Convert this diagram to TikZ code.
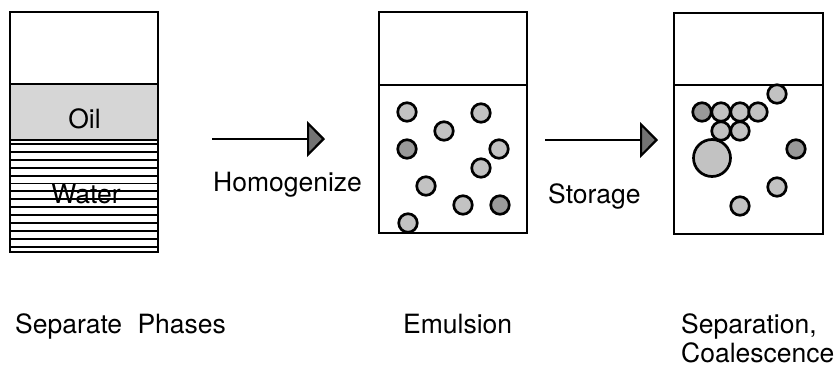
\documentclass[tikz,border=0pt]{standalone}
\usepackage{fontspec}
\setmainfont{TeX Gyre Heros}
\usetikzlibrary{arrows.meta}
\begin{document}
\begin{tikzpicture}[x=1pt,y=-1pt,
  vessel/.style={draw, line width=2pt, inner sep=0pt, fill=none},
  drop/.style={circle, draw, line width=2.7pt, fill=black!24, minimum size=18.5pt, inner sep=0pt},
  dropdark/.style={drop, fill=black!40},
  bigdrop/.style={drop, minimum size=37pt},
  flow/.style={line width=1.5pt, -{Triangle[length=18pt,width=36pt,fill=black!55,line width=2.2pt]}},
  lbl/.style={font=\fontsize{26.5}{30}\selectfont, inner sep=0pt},
  stripe/.style={line width=1.9pt}]
\useasboundingbox (0,0) rectangle (835,367);

% --- first vessel: oil layer over striped water ---
\fill[black!16] (10,84) rectangle (158,140);
\foreach \k in {0,...,13} \draw[stripe] (10,144+7.9*\k) -- (158,144+7.9*\k);
\node[vessel, minimum width=148pt, minimum height=240pt] (v1) at (84,132) {};
\draw[line width=1.2pt] (10,84) -- (158,84);
\draw[line width=1.8pt] (10,140) -- (158,140);
\node[lbl, anchor=base] (oil) at (84.5,128) {Oil};
\node[lbl, anchor=base] (water) at (86,203) {Water};

% --- second vessel: emulsion ---
\node[vessel, minimum width=148.5pt, minimum height=221pt] (v2) at (452.75,122.5) {};
\draw[line width=1.6pt] (378.5,85) -- (527,85);
\node[drop] (e1) at (407,112) {};
\node[drop] (e2) at (481,113) {};
\node[drop] (e3) at (444,131) {};
\node[dropdark] (e4) at (407,149) {};
\node[drop] (e5) at (499,149) {};
\node[drop] (e6) at (481,168) {};
\node[drop] (e7) at (426,186) {};
\node[drop] (e8) at (463,205) {};
\node[dropdark] (e9) at (500,205) {};
\node[drop] (e10) at (408,223) {};

% --- third vessel: separation and coalescence ---
\node[vessel, minimum width=149pt, minimum height=221pt] (v3) at (748.5,123.5) {};
\draw[line width=1.6pt] (674,85) -- (823,85);
\node[drop] (c1) at (777,94) {};
\node[dropdark] (c2) at (702,112) {};
\node[drop] (c3) at (721,112) {};
\node[drop] (c4) at (740,112) {};
\node[drop] (c5) at (758,112) {};
\node[drop] (c6) at (721,131) {};
\node[drop] (c7) at (740,131) {};
\node[bigdrop] (c8) at (712,158) {};
\node[dropdark] (c9) at (796,149) {};
\node[drop] (c10) at (777,187) {};
\node[drop] (c11) at (740,206) {};

% --- process arrows ---
\coordinate (a1s) at (212,139);
\coordinate (a1e) at (325,139);
\coordinate (a2s) at (545,140);
\coordinate (a2e) at (658,140);
\draw[flow] (a1s) -- (a1e);
\draw[flow] (a2s) -- (a2e);
\node[lbl, anchor=base west] (hom) at (213,191) {Homogenize};
\node[lbl, anchor=base west] (sto) at (548,203) {Storage};

% --- captions ---
\node[lbl, anchor=base west] (cap1) at (15,333) {Separate\hspace{0.3em} Phases};
\node[lbl, anchor=base west] (cap2) at (403,333) {Emulsion};
\node[lbl, anchor=base west] (cap3) at (681,333) {Separation,};
\node[lbl, anchor=base west] (cap4) at (681,362) {Coalescence};
\end{tikzpicture}
\end{document}
